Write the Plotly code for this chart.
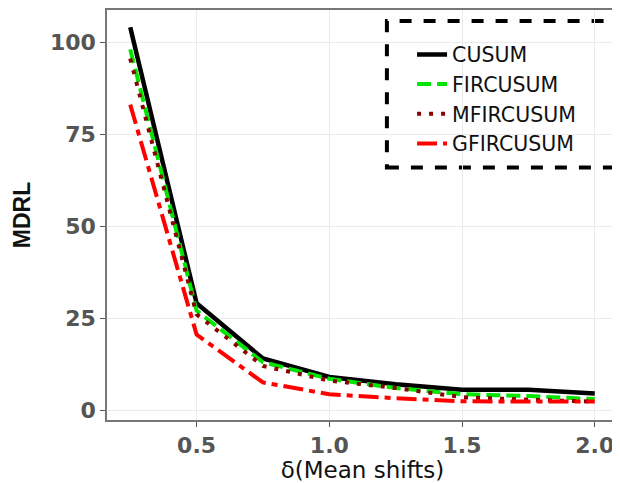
import plotly.graph_objects as go

shifts = [0.25, 0.5, 0.75, 1.0, 1.25, 1.5, 1.75, 2.0]
cusum = [104, 29, 14, 9, 7, 5.5, 5.5, 4.5]
fircusum = [98, 27, 13, 8.5, 6, 4.3, 3.8, 3]
mfircusum = [95.5, 26, 12, 8, 6, 3.5, 2.8, 2.3]
gfircusum = [83, 20.5, 7.5, 4.3, 3.2, 2.4, 2.3, 2.3]
names = ["CUSUM", "FIRCUSUM", "MFIRCUSUM", "GFIRCUSUM"]
colors = ["#000000", "#00E600", "#8B0000", "#FF0000"]
dashes = ["solid", "14px,6px", "4px,8px", "20px,6px,6px,6px"]
series = [cusum, fircusum, mfircusum, gfircusum]
xticks = [0.5, 1.0, 1.5, 2.0]
yticks = [0, 25, 50, 75, 100]

SANS = "Liberation Sans, Arial, sans-serif"
WIDE = "DejaVu Sans, sans-serif"
fig = go.Figure()
for name, vals, col, d in zip(names, series, colors, dashes):
    fig.add_trace(go.Scatter(x=shifts, y=vals, mode="lines", name=name,
                             line=dict(color=col, width=4.5 if d == "solid" else 4, dash=d)))

fig.update_layout(
    width=612, height=475,
    margin=dict(l=99, r=0, t=1, b=63),
    paper_bgcolor="white", plot_bgcolor="white",
    font=dict(family=WIDE),
    legend=dict(x=0.597, y=0.940, xanchor="left", yanchor="top",
                bgcolor="rgba(0,0,0,0)", borderwidth=0,
                font=dict(family=WIDE, size=20.5, color="#111111")),
    xaxis=dict(range=[0.1625, 2.0875], tickvals=xticks,
               ticktext=["0.5", "1.0", "1.5", "2.0"],
               showgrid=True, gridcolor="#EBEBEB", gridwidth=1.2,
               zeroline=False, showline=True, linecolor="#777777", linewidth=1.5,
               mirror=True, ticks="outside", ticklen=5, tickcolor="#555555",
               tickfont=dict(family=WIDE, size=22, color="#555555", weight="bold"),
               title=dict(text="δ(Mean shifts)", font=dict(family=WIDE, size=23, color="#111111"),
                          standoff=1)),
    yaxis=dict(range=[-2.7, 108.7], tickvals=yticks,
               showgrid=True, gridcolor="#EBEBEB", gridwidth=1.2,
               zeroline=False, showline=True, linecolor="#777777", linewidth=1.5,
               mirror=True, ticks="outside", ticklen=5, tickcolor="#555555",
               tickfont=dict(family=WIDE, size=22, color="#555555", weight="bold"),
               title=dict(text="MDRL", font=dict(family=SANS, size=23, color="#111111", weight="bold"),
                          standoff=13)),
)
fig.add_shape(type="rect", xref="paper", yref="paper",
              x0=(388 - 107) / 513, x1=(640 - 107) / 513,
              y0=(420 - 167) / 411, y1=(420 - 20) / 411,
              line=dict(color="black", width=4, dash="dash"), fillcolor="white",
              layer="below")
fig.write_html("out.html")
